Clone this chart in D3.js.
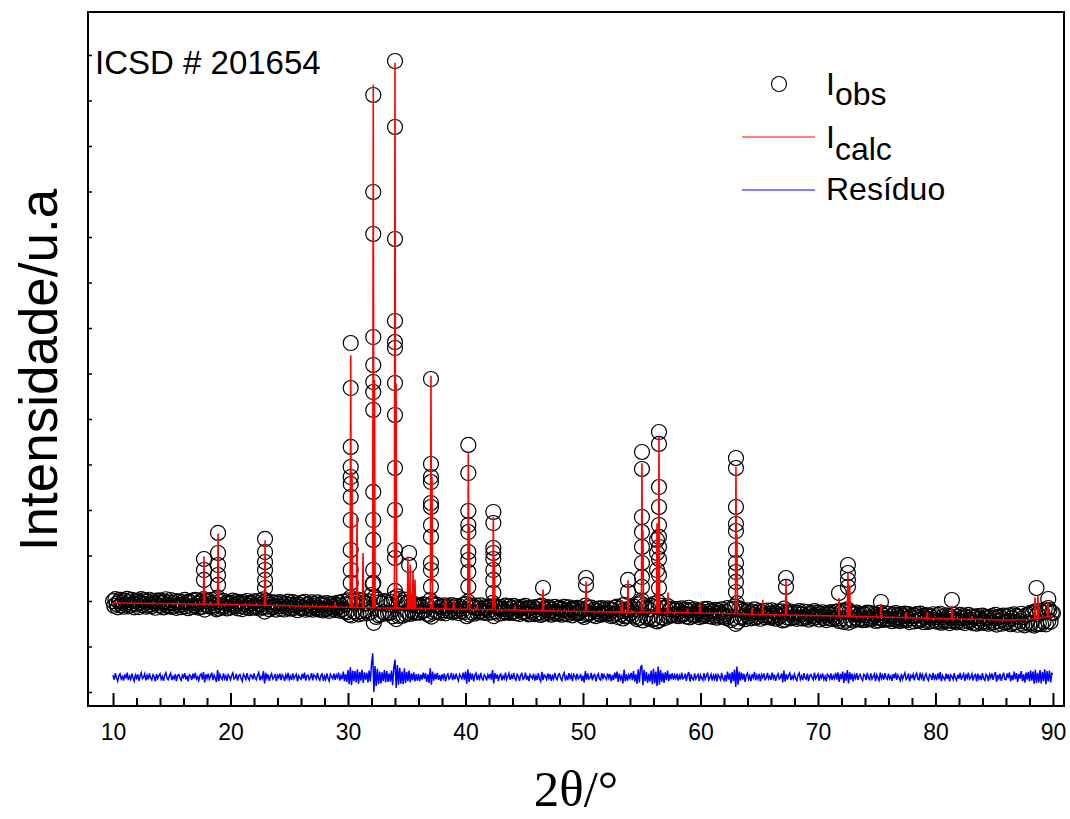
<!DOCTYPE html>
<html>
<head>
<meta charset="utf-8">
<script src="https://cdn.jsdelivr.net/npm/d3@7/dist/d3.min.js"></script>
<style>
body { margin: 0; background: #fff; }
text { font-family: Arial, "Liberation Sans", sans-serif; fill: #000; }
</style>
</head>
<body>
<script>
// passo di misura (2theta)
var thetaStart = 10, thetaStep = 0.1;

// residuo Iobs - Icalc (conteggi), un valore per passo, righe da 2 gradi
var resid = [
  40,-60,85,-20,-95,30,70,-45,10,-80,55,-30,95,-70,20,-50,75,-15,-90,45,
  -25,60,-85,15,90,-40,-5,70,-75,35,-55,80,-20,-65,50,5,-95,65,-35,25,
  70,-50,10,-85,45,95,-30,-60,25,80,-70,15,-40,60,-90,35,55,-25,-75,40,
  -10,85,-55,30,-95,50,20,-65,75,-35,90,-45,5,-80,40,65,-60,110,-120,60,
  -30,75,-50,20,95,-70,40,-25,-110,150,-90,55,-15,-60,80,-40,25,-85,50,10,
  -65,35,90,-45,-15,70,-80,25,55,-35,-95,60,15,-50,85,-20,-70,45,30,-55,
  80,-25,-60,40,95,-75,10,-40,130,-140,90,-30,55,-85,20,70,-45,-10,65,-90,
  35,-15,75,-70,50,5,-85,45,-30,90,-55,20,-65,80,-40,15,60,-95,30,-20,
  -50,70,-35,95,-80,25,40,-60,-10,85,-75,50,15,-45,90,-25,-70,35,65,-85,
  20,-55,80,-30,-90,60,10,-40,75,-65,45,-15,95,-80,30,-50,120,-90,60,-110,
  150,-160,210,-180,140,-90,130,-120,170,-150,110,-80,160,-130,100,-60,90,-120,140,-100,
  280,520,-330,240,-200,180,-160,120,-140,100,-90,150,-120,130,-110,80,-100,140,-180,210,
  380,-240,260,-170,200,-150,120,-160,190,-130,110,-90,140,-120,80,-70,100,-95,60,-80,
  70,-90,50,-60,95,-40,85,-110,60,-130,190,-170,120,-80,75,-50,90,-65,40,-85,
  55,-30,80,-95,20,65,-45,-15,90,-70,35,-50,75,-25,-85,60,10,-40,95,-60,
  120,-150,170,-110,90,-60,75,-95,40,85,-70,25,-45,90,-30,-65,50,15,-80,45,
  -20,70,-60,150,-140,85,-35,55,-90,30,65,-75,20,-40,95,-55,10,80,-65,35,
  -45,90,-25,-70,60,15,-85,40,75,-50,-20,95,-60,30,-90,55,5,-35,70,-80,
  25,-65,85,-40,-95,110,-70,45,15,-55,80,-30,60,-85,20,-45,90,-15,-60,50,
  70,-35,-80,40,95,-55,10,-70,85,-25,45,-90,60,20,-50,75,-40,-10,65,-85,
  30,-120,130,-60,80,-45,-20,90,-75,35,55,-95,15,70,-40,-65,85,-30,50,-10,
  -55,80,-25,60,-90,40,-70,95,-35,120,-110,75,-50,20,-140,160,-95,60,-80,45,
  -30,90,-70,130,-100,60,-150,170,-120,200,260,-180,150,-90,110,-130,70,-100,140,-160,
  180,-140,120,-200,230,-170,150,-110,90,-130,100,-70,140,-90,60,-50,85,-60,45,-35,
  75,-80,30,-55,95,-40,-20,70,-85,45,110,-100,60,-30,-65,80,-45,15,55,-90,
  40,-25,-70,85,-50,20,95,-65,-10,60,-80,35,-45,75,-95,50,5,-60,90,-30,
  -75,45,-100,120,-60,80,-140,110,-90,160,-220,230,-170,120,-80,95,-60,70,-110,40,
  85,-50,25,-90,60,-20,110,-75,35,-45,70,-95,50,-15,80,-60,-25,90,-40,20,
  -65,95,-30,50,-85,15,70,-45,-10,80,-120,140,-100,60,-55,35,85,-70,25,-40,
  60,-35,-80,45,90,-55,20,-70,85,-25,-50,75,-90,30,55,-15,-60,95,-40,10,
  65,-85,40,-20,75,-55,15,-95,60,30,-45,80,-70,25,-35,90,-60,100,-110,70,
  -50,120,-130,90,-80,150,-140,100,-60,75,-95,45,-30,85,-65,20,55,-40,-80,60,
  35,-70,90,-25,-55,80,-45,10,65,-90,50,-15,-75,95,-35,40,-60,85,-20,-50,
  75,-40,20,-85,60,-30,95,-65,45,-10,-80,70,-50,25,90,-55,-20,80,-95,35,
  -15,60,-75,40,85,-45,-60,95,-25,50,-90,15,70,-35,-80,55,30,-65,90,-40,
  25,-70,80,-50,105,-90,35,-20,-65,75,-40,60,-95,45,10,-55,85,-30,-75,50,
  -35,90,-60,15,70,-85,40,-25,95,-50,-10,65,-80,30,55,-95,75,-45,20,-70,
  85,-40,-75,60,25,-90,50,-20,80,-65,35,110,-105,45,-30,70,-85,15,95,-55,
  -60,75,-25,100,-95,40,-70,120,-50,85,-110,65,-35,130,-90,55,-125,95,-60,110,
  -100,140,-80,120,-150,160,-130,90,-120,150,-140,110,-90,170,-160,130,-100,140,-120,80,
  60
];
var residOffset = 330;

// fondo del profilo calcolato
var bgTheta  = [10, 14, 17, 22, 26, 29, 33, 38, 44, 48, 52, 58, 62, 67, 72, 77, 82, 86, 88, 90];
var bgCounts = [1956, 1945, 1934, 1912, 1890, 1868, 1846, 1824, 1802, 1780, 1758, 1747, 1725, 1692, 1670, 1637, 1604, 1582, 1593, 1670];

// riflessi calcolati: posizione e altezza sopra il fondo
var peakTheta  = [17.74, 18.94, 22.94, 28.9, 30.23, 30.34, 30.77, 31.28, 32.15, 32.26, 34.0, 34.09,
                  35.1, 35.3, 35.53, 35.7, 37.06, 37.15, 38.3, 39.0, 40.24, 40.33, 41.0, 42.37, 42.46,
                  44.2, 46.6, 50.26, 53.3, 53.83, 55.02, 55.1, 56.3, 56.47, 57.23, 58.9, 59.96,
                  63.02, 63.1, 64.4, 65.3, 67.28, 71.79, 72.55, 72.7, 75.36, 77.5, 79.3, 81.4, 83.1,
                  88.47, 88.72, 89.57];
var peakHeight = [1055, 1560, 1429, 110, 5538, 2967, 2000, 1198, 11495, 5000, 11989, 4945,
                  1143, 967, 813, 637, 5121, 2901, 242, 198, 3429, 1824, 110, 2044, 1143,
                  100, 462, 659, 264, 703, 3275, 1802, 1956, 3868, 440, 88, 242,
                  3231, 1736, 154, 319, 769, 396, 967, 681, 286, 121, 132, 286, 77,
                  473, 495, 330];

// punti osservati sui picchi
var obsPeakTheta = [17.74, 18.94, 22.94, 30.23, 32.15, 34.0, 35.2, 37.06, 40.24, 42.37, 46.6, 50.26,
                    53.83, 55.02, 56.3, 56.47, 63.02, 67.28, 71.79, 72.55, 75.36, 81.4, 88.6, 89.6];
var obsPeakCounts = [
  [2923, 2681, 2462],
  [3495, 3055, 2791, 2571, 2352],
  [3363, 3077, 2857, 2681, 2462, 2286],
  [7670, 6681, 5385, 4945, 4725, 4571, 4286, 3780, 3121, 2681, 2396],
  [13121, 10989, 10066, 7802, 7187, 6813, 6593, 6198, 4396, 3780, 3341, 2681, 2396],
  [13868, 12418, 9956, 8154, 7692, 7560, 6791, 6088, 4923, 4000, 3121, 2945],
  [3055, 2791],
  [6879, 5011, 4725, 4615, 4154, 4066, 3670, 3407, 2835, 2681, 2308],
  [5429, 4813, 3978, 3670, 3516, 3077, 2901, 2637, 2308],
  [3956, 3714, 3165, 3055, 2923, 2681, 2462, 2176],
  [2286],
  [2505, 2352],
  [2462, 2198],
  [5275, 4901, 3846, 3516, 3187, 2835, 2527, 2308],
  [3341, 3055, 2681],
  [5714, 5451, 4505, 4066, 3670, 3407, 3187, 2923, 2571, 2286],
  [5143, 4923, 4066, 3692, 3538, 3121, 2835, 2637, 2418, 2198],
  [2505, 2308],
  [2176],
  [2791, 2615, 2462, 2308],
  [1978],
  [2022],
  [2286],
  [2044, 1846]
];

// tacche
var xMajorTicks = [10, 20, 30, 40, 50, 60, 70, 80, 90];
var xMinorTicks = [12, 14, 16, 18, 22, 24, 26, 28, 32, 34, 36, 38, 42, 44, 46, 48, 52, 54, 56, 58,
                   62, 64, 66, 68, 72, 74, 76, 78, 82, 84, 86, 88];
var yTicks = [0, 1000, 2000, 3000, 4000, 5000, 6000, 7000, 8000, 9000, 10000, 11000, 12000, 13000, 14000];

//grandezze svg
var W = 1070, H = 819;
var plot = {left: 88, right: 1064, top: 12, bottom: 706};

var x = d3.scaleLinear().domain([7.87, 90.94]).range([plot.left, plot.right]);
var y = d3.scaleLinear().domain([-308, 14945]).range([plot.bottom, plot.top]);
var bg = d3.scaleLinear().domain(bgTheta).range(bgCounts);

var svg = d3.select("body").append("svg")
    .attr("width", W)
    .attr("height", H);

// profilo calcolato = fondo + riflessi (triangoli stretti)
var peakHalf = 0.05;
var calcTheta = bgTheta.slice();
peakTheta.forEach(function(t) { calcTheta.push(t - peakHalf, t, t + peakHalf); });
calcTheta.sort(d3.ascending);
function calcAt(t) {
    var v = bg(t);
    peakTheta.forEach(function(p, i) {
        var d = Math.abs(t - p);
        if (d < peakHalf) v += peakHeight[i] * (1 - d / peakHalf);
    });
    return v;
}
var calcData = calcTheta.map(function(t) { return [t, calcAt(t)]; });

// dati osservati
var obsData = resid.map(function(r, i) {
    var t = thetaStart + i * thetaStep;
    return [t, bg(t) + r];
});
obsPeakTheta.forEach(function(t, i) {
    obsPeakCounts[i].forEach(function(c) { obsData.push([t, c]); });
});
var residData = resid.map(function(r, i) { return [thetaStart + i * thetaStep, r + residOffset]; });

// punti osservati
svg.append("g").selectAll("circle")
    .data(obsData)
    .enter().append("circle")
    .attr("cx", function(d) { return x(d[0]); })
    .attr("cy", function(d) { return y(d[1]); })
    .attr("r", 7.5)
    .attr("fill", "none")
    .attr("stroke", "#000")
    .attr("stroke-width", 1.2);

var line = d3.line()
    .x(function(d) { return x(d[0]); })
    .y(function(d) { return y(d[1]); });

svg.append("path")
    .datum(calcData)
    .attr("d", line)
    .attr("fill", "none")
    .attr("stroke", "#ff0000")
    .attr("stroke-width", 1.6);

svg.append("path")
    .datum(residData)
    .attr("d", line)
    .attr("fill", "none")
    .attr("stroke", "#0000ff")
    .attr("stroke-width", 1.5);

// assi
var xAxis = d3.axisBottom(x).tickValues(xMajorTicks).tickSize(-13).tickPadding(18).tickFormat(d3.format("d"));
var xAxisMinor = d3.axisBottom(x).tickValues(xMinorTicks).tickSize(-8).tickFormat("");
var yAxis = d3.axisLeft(y).tickValues(yTicks).tickSize(-4).tickFormat("");

var gx = svg.append("g").attr("transform", "translate(0," + plot.bottom + ")").call(xAxis);
var gxm = svg.append("g").attr("transform", "translate(0," + plot.bottom + ")").call(xAxisMinor);
var gy = svg.append("g").attr("transform", "translate(" + plot.left + ",0)").call(yAxis);
[gx, gxm, gy].forEach(function(g) {
    g.select(".domain").remove();
    g.selectAll("line").attr("stroke", "#000").attr("stroke-width", 2);
});
gy.selectAll("line").attr("stroke-width", 1.5);
gx.selectAll("text")
    .style("font-family", "Arial, 'Liberation Sans', sans-serif")
    .style("font-size", "23px")
    .attr("fill", "#000");

// cornice
svg.append("rect")
    .attr("x", plot.left).attr("y", plot.top)
    .attr("width", plot.right - plot.left).attr("height", plot.bottom - plot.top)
    .attr("fill", "none").attr("stroke", "#000").attr("stroke-width", 2);

// titoli
svg.append("text")
    .attr("x", (plot.left + plot.right) / 2).attr("y", 806)
    .attr("text-anchor", "middle")
    .style("font-family", "'Liberation Serif', 'Times New Roman', serif")
    .style("font-size", "51px")
    .text("2θ/°");

svg.append("text")
    .attr("transform", "translate(57,370) rotate(-90)")
    .attr("text-anchor", "middle")
    .style("font-size", "53px")
    .text("Intensidade/u.a");

svg.append("text")
    .attr("x", 95).attr("y", 74)
    .style("font-size", "33px")
    .text("ICSD # 201654");

// legenda
var legend = svg.append("g");
legend.append("circle").attr("cx", 779).attr("cy", 84).attr("r", 7.5)
    .attr("fill", "none").attr("stroke", "#000").attr("stroke-width", 1.1);
legend.append("line").attr("x1", 742).attr("x2", 815).attr("y1", 137).attr("y2", 137)
    .attr("stroke", "#ff0000").attr("stroke-width", 1);
legend.append("line").attr("x1", 742).attr("x2", 815).attr("y1", 190).attr("y2", 190)
    .attr("stroke", "#0000ff").attr("stroke-width", 1);

var t1 = legend.append("text").attr("x", 826).attr("y", 95).style("font-size", "32px");
t1.append("tspan").text("I");
t1.append("tspan").attr("dy", 10).text("obs");
var t2 = legend.append("text").attr("x", 826).attr("y", 148).style("font-size", "32px");
t2.append("tspan").text("I");
t2.append("tspan").attr("dy", 12).text("calc");
legend.append("text").attr("x", 826).attr("y", 200).style("font-size", "32px").text("Resíduo");
</script>
</body>
</html>
